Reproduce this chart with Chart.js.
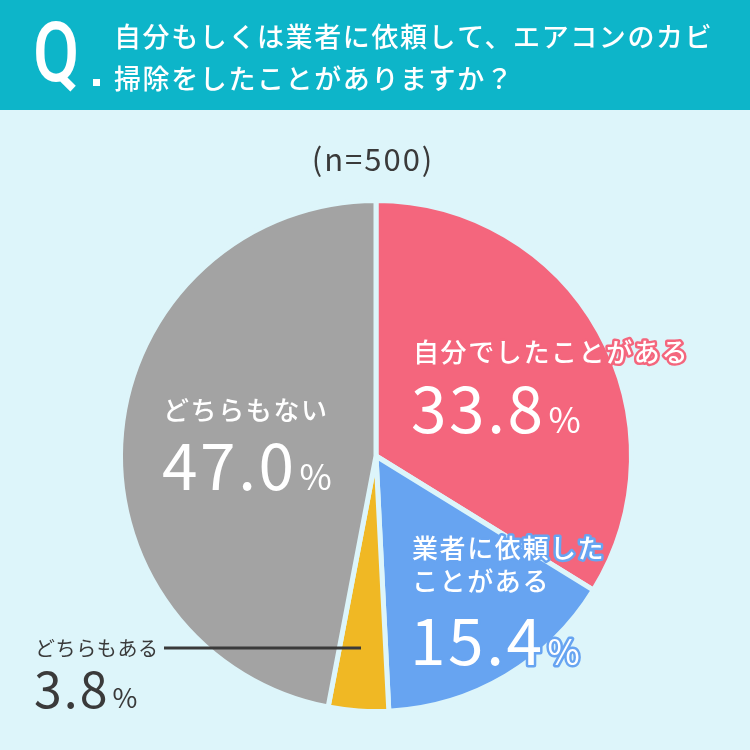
<!DOCTYPE html>
<html>
<head>
<meta charset="utf-8">
<script src="https://cdn.jsdelivr.net/npm/chart.js@4"></script>
<style>
  html, body { margin: 0; padding: 0; background: #ddf5fa; }
  canvas { display: block; }
</style>
</head>
<body>
<canvas id="pie" width="750" height="750"></canvas>
<script>
// データ
const categories = ["自分でしたことがある", "業者に依頼したことがある", "どちらもある", "どちらもない"];
const values = [33.8, 15.4, 3.8, 47.0];
const sliceColors = ["#f4667d", "#67a4f1", "#f0b824", "#a3a3a3"];
const questionLines = ["自分もしくは業者に依頼して、エアコンのカビ", "掃除をしたことがありますか？"];
const sampleText = "(n=500)";

const BG = "#ddf5fa";
const HEADER = "#0db5c9";
const DARK = "#3a3a3a";
const JP = '"Noto Sans CJK JP", "Noto Sans", sans-serif';

// テキストを描く（必要なら縁取り）
function drawText(ctx, text, x, y, size, color, weight, stroke, spacing) {
  ctx.font = (weight || "500") + " " + size + "px " + JP;
  ctx.letterSpacing = (spacing || 0) + "px";
  ctx.textBaseline = "alphabetic";
  ctx.textAlign = "left";
  if (stroke) {
    ctx.lineJoin = "round";
    ctx.lineWidth = 5;
    ctx.strokeStyle = stroke;
    ctx.strokeText(text, x, y);
  }
  ctx.fillStyle = color;
  ctx.fillText(text, x, y);
  const w = ctx.measureText(text).width;
  ctx.letterSpacing = "0px";
  return w;
}

// 数値 + 小さい％
function drawPercent(ctx, value, x, y, big, color, stroke) {
  const w = drawText(ctx, value.toFixed(1), x, y, big, color, "400", stroke, big * 0.04);
  drawText(ctx, "%", x + w + 3, y, Math.round(big * 0.54), color, "400", stroke);
}

const backgroundPlugin = {
  id: "background",
  beforeDraw(chart) {
    const ctx = chart.ctx;
    ctx.save();
    ctx.fillStyle = BG;
    ctx.fillRect(0, 0, chart.width, chart.height);
    ctx.fillStyle = HEADER;
    ctx.fillRect(0, 0, chart.width, 110);

    // Q.
    ctx.save();
    ctx.fillStyle = "#ffffff";
    ctx.font = "500 84px Roboto, sans-serif";
    ctx.textBaseline = "alphabetic";
    ctx.translate(33, 81);
    ctx.scale(0.8, 1);
    ctx.fillText("Q", 0, 0);
    ctx.restore();
    ctx.fillStyle = "#ffffff";
    ctx.fillRect(93, 79, 7, 7);

    // 質問文
    drawText(ctx, questionLines[0], 114, 47, 27, "#ffffff", "500", null, 1.6);
    drawText(ctx, questionLines[1], 114, 89, 27, "#ffffff", "500", null, 1.6);

    // (n=500)
    ctx.font = "400 31px " + JP;
    ctx.letterSpacing = "2px";
    ctx.fillStyle = DARK;
    ctx.textAlign = "center";
    ctx.fillText(sampleText, 373, 171);
    ctx.letterSpacing = "0px";
    ctx.restore();
  }
};

const labelPlugin = {
  id: "labels",
  afterDraw(chart) {
    const ctx = chart.ctx;
    ctx.save();

    // 自分でしたことがある
    drawText(ctx, categories[0], 413, 362, 26, "#ffffff", "500", sliceColors[0], 1.6);
    drawPercent(ctx, values[0], 411, 433, 64, "#ffffff", null);

    // 業者に依頼したことがある
    drawText(ctx, "業者に依頼した", 412, 558, 26, "#ffffff", "500", sliceColors[1], 1.6);
    drawText(ctx, "ことがある", 412, 591, 26, "#ffffff", "500", null, 1.6);
    drawPercent(ctx, values[1], 410, 665, 64, "#ffffff", sliceColors[1]);

    // どちらもない
    drawText(ctx, categories[3], 163, 420, 26, "#ffffff", "500", null, 1.6);
    drawPercent(ctx, values[3], 162, 490, 64, "#ffffff", null);

    // どちらもある（引き出し線）
    ctx.strokeStyle = DARK;
    ctx.lineWidth = 3;
    ctx.beginPath();
    ctx.moveTo(164, 648);
    ctx.lineTo(361, 648);
    ctx.stroke();
    drawText(ctx, categories[2], 35, 656, 20, DARK, "400", null, 0.6);
    drawPercent(ctx, values[2], 34, 708, 50, DARK, null);

    ctx.restore();
  }
};

const ctx = document.getElementById("pie").getContext("2d");
const pieChart = new Chart(ctx, {
  type: "pie",
  data: {
    labels: categories,
    datasets: [
      {
        data: values,
        backgroundColor: sliceColors,
        borderColor: BG,
        borderWidth: 5,
      },
    ],
  },
  options: {
    responsive: false,
    animation: false,
    layout: {
      padding: { left: 118, top: 198, right: 116, bottom: 36 },
    },
    plugins: {
      legend: { display: false },
      tooltip: { enabled: false },
    },
  },
  plugins: [backgroundPlugin, labelPlugin],
});
</script>
</body>
</html>
